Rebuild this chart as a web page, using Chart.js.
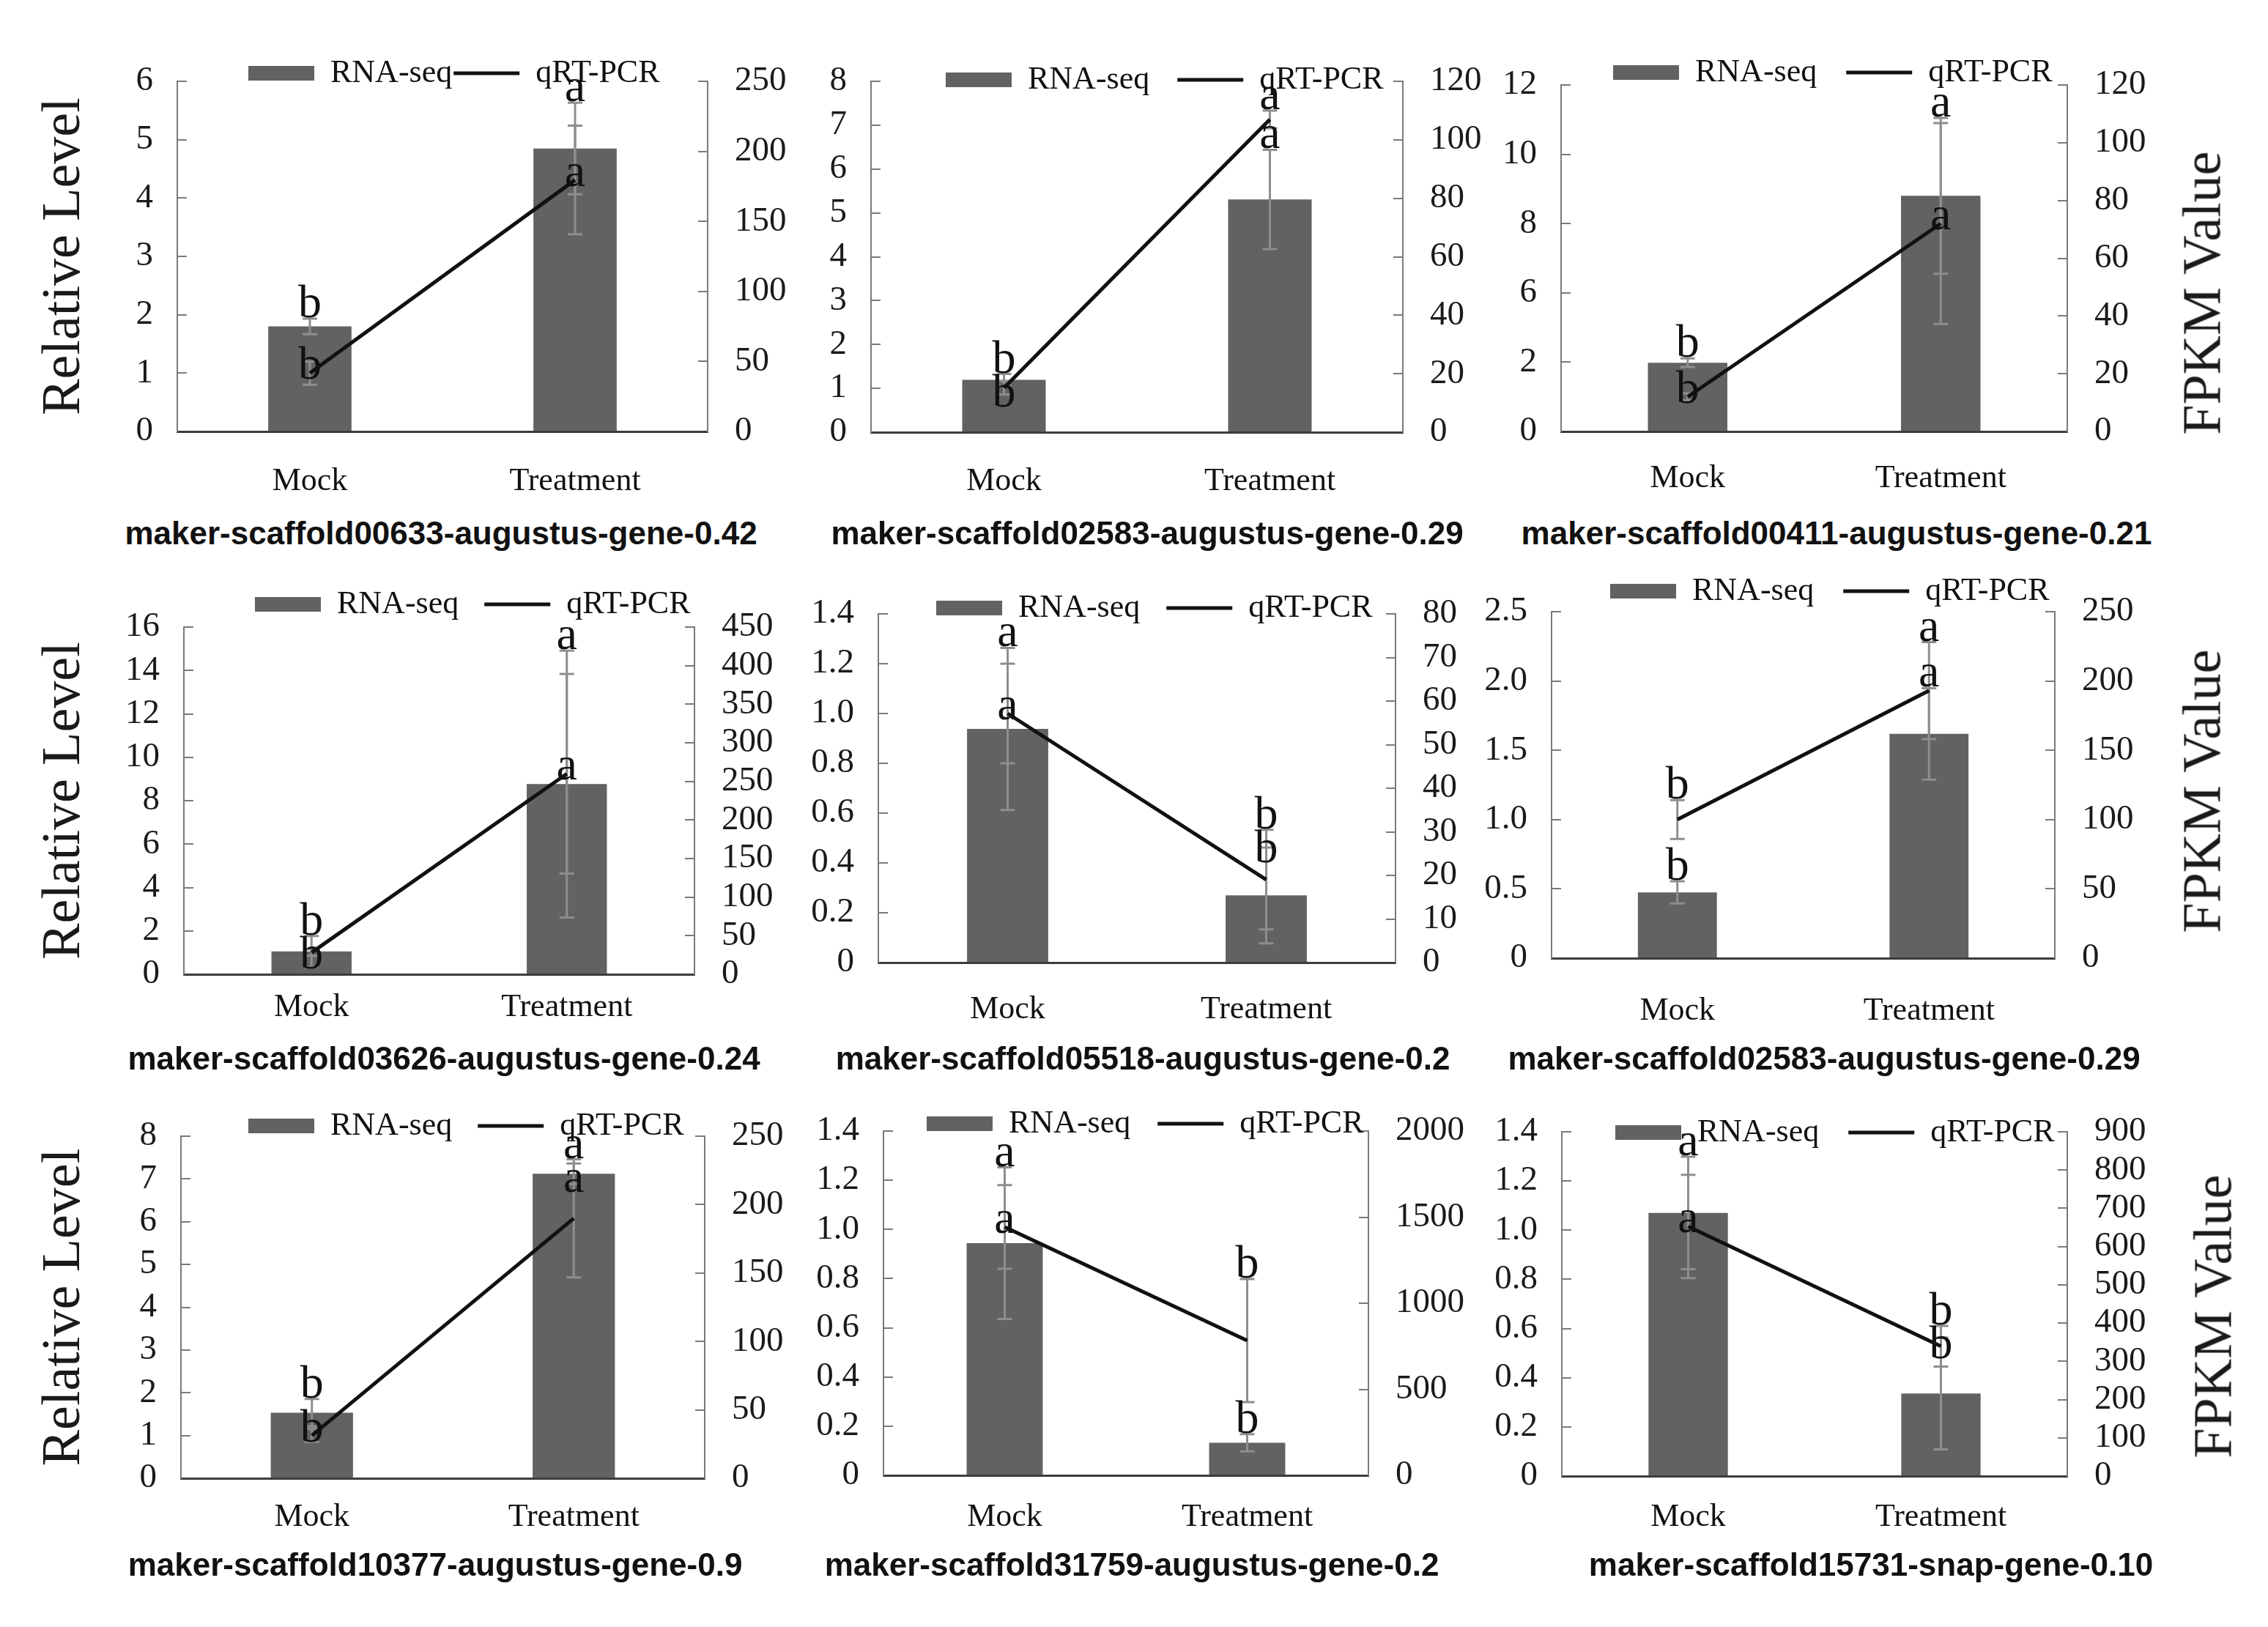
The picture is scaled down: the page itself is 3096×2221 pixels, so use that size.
<!DOCTYPE html>
<html>
<head>
<meta charset="utf-8">
<script src="https://cdn.jsdelivr.net/npm/chart.js@4.4.0/dist/chart.umd.min.js"></script>
<style>
  html, body { margin: 0; padding: 0; background: #fff; }
  #page { position: relative; width: 3096px; height: 2221px; overflow: hidden; background: #fff; }
  #page canvas { position: absolute; }
  .gene { position: absolute; font: bold 44px "Liberation Sans", Arial, sans-serif; color: #111; white-space: nowrap; transform: translate(-50%, -50%); }
  .fpkm { position: absolute; font: 74px "Liberation Serif", "Times New Roman", serif; color: #1a1a1a; white-space: nowrap; transform: translate(-50%, -50%) rotate(-90deg); }
</style>
</head>
<body>
<div id="page"></div>
<script>
const categories = ['Mock', 'Treatment'];

const geneNames = [
    'maker-scaffold00633-augustus-gene-0.42',
    'maker-scaffold02583-augustus-gene-0.29',
    'maker-scaffold00411-augustus-gene-0.21',
    'maker-scaffold03626-augustus-gene-0.24',
    'maker-scaffold05518-augustus-gene-0.2',
    'maker-scaffold02583-augustus-gene-0.29',
    'maker-scaffold10377-augustus-gene-0.9',
    'maker-scaffold31759-augustus-gene-0.2',
    'maker-scaffold15731-snap-gene-0.10'
];

// RNA-seq (bars, FPKM, right axis)
const fpkm = [
    [75, 202], [17.9, 79.6], [23.8, 81.6],
    [29.6, 246.5], [53.6, 15.4], [47.5, 161.8],
    [47.9, 222.6], [1349, 189], [688, 216]
];
const fpkmErr = [
    [5.6, 32.7], [2, 17], [1.5, 27],
    [20, 173], [18.6, 11], [8, 33],
    [10, 7.5], [440, 50], [147, 146]
];

// qRT-PCR (line, relative level, left axis)
const relLevel = [
    [1.0, 4.31], [1.01, 7.13], [1.0, 6.0],
    [1.0, 9.24], [1.0, 0.333], [1.0, 1.93],
    [1.0, 6.08], [1.01, 0.548], [1.015, 0.528]
];
const relErr = [
    [0.2, 0.93], [0.15, 0.2], [0.1, 2.9],
    [0.15, 4.6], [0.2, 0.2], [0.14, 0.35],
    [0.15, 1.38], [0.17, 0.25], [0.21, 0.083]
];

const fpkmLetters = [
    ['b', 'a'], ['b', 'a'], ['b', 'a'],
    ['b', 'a'], ['a', 'b'], ['b', 'a'],
    ['b', 'a'], ['a', 'b'], ['a', 'b']
];
const relLetters = [
    ['b', 'a'], ['b', 'a'], ['b', 'a'],
    ['b', 'a'], ['a', 'b'], ['b', 'a'],
    ['b', 'a'], ['a', 'b'], ['a', 'b']
];

const fine = ['0', '0.2', '0.4', '0.6', '0.8', '1.0', '1.2', '1.4'];
const leftTicks = [
    ['0', '1', '2', '3', '4', '5', '6'],
    ['0', '1', '2', '3', '4', '5', '6', '7', '8'],
    ['0', '2', '6', '8', '10', '12'],
    ['0', '2', '4', '6', '8', '10', '12', '14', '16'],
    fine,
    ['0', '0.5', '1.0', '1.5', '2.0', '2.5'],
    ['0', '1', '2', '3', '4', '5', '6', '7', '8'],
    fine,
    fine
];
const leftStep = [1, 1, 2, 2, 0.2, 0.5, 1, 0.2, 0.2];

const rightTicks = [
    ['0', '50', '100', '150', '200', '250'],
    ['0', '20', '40', '60', '80', '100', '120'],
    ['0', '20', '40', '60', '80', '100', '120'],
    ['0', '50', '100', '150', '200', '250', '300', '350', '400', '450'],
    ['0', '10', '20', '30', '40', '50', '60', '70', '80'],
    ['0', '50', '100', '150', '200', '250'],
    ['0', '50', '100', '150', '200', '250'],
    ['0', '500', '1000', '1500', '2000'],
    ['0', '100', '200', '300', '400', '500', '600', '700', '800', '900']
];

// layout of each panel on the page (px)
const frames = [
    { l: 242, r: 966, t: 111, b: 589, legX: 339, legY: 100, legGap: 2, xPad: 42, tx: 602, ty: 728 },
    { l: 1189, r: 1915, t: 111, b: 590, legX: 1291, legY: 109, legGap: 38, xPad: 41, tx: 1566, ty: 728 },
    { l: 2131, r: 2822, t: 116, b: 589, legX: 2202, legY: 99, legGap: 40, xPad: 38, tx: 2507, ty: 728 },
    { l: 251, r: 948, t: 856, b: 1330, legX: 348, legY: 825, legGap: 35, xPad: 19, tx: 606, ty: 1445 },
    { l: 1199, r: 1905, t: 838, b: 1314, legX: 1278, legY: 830, legGap: 36, xPad: 38, tx: 1560, ty: 1445 },
    { l: 2118, r: 2805, t: 835, b: 1308, legX: 2198, legY: 807, legGap: 40, xPad: 46, tx: 2490, ty: 1445 },
    { l: 247, r: 962, t: 1551, b: 2018, legX: 339, legY: 1537, legGap: 35, xPad: 27, tx: 594, ty: 2136 },
    { l: 1206, r: 1868, t: 1544, b: 2014, legX: 1265, legY: 1534, legGap: 37, xPad: 31, tx: 1545, ty: 2136 },
    { l: 2132, r: 2822, t: 1545, b: 2015, legX: 2205, legY: 1546, legGap: 40, xPad: 30, tx: 2554, ty: 2136 }
];
const fpkmTitlePos = { 2: [3006, 400], 5: [3006, 1080], 8: [3021, 1797] };

const PAGE_W = 3096;
const TOP_SPACE = 140;
const BOTTOM_H = 110;
const SIDE = 130;
const LEG_FS = 44;
const LETTER_H = 46;

Chart.defaults.font.family = '"Liberation Serif", "Times New Roman", serif';
Chart.defaults.color = '#111';

// move the legend to where it sits in the figure
const legendPlace = {
    id: 'legendPlace',
    afterLayout(chart, args, opts) {
        const lg = chart.legend;
        if (!lg) return;
        const pad = opts.gap;
        const w = lg.width, h = lg.height;
        lg.left = opts.x - pad;
        lg.right = lg.left + w;
        lg.top = opts.y - pad - LEG_FS / 2;
        lg.bottom = lg.top + h;
    }
};

function whisker(ctx, x, lo, hi) {
    ctx.beginPath();
    ctx.moveTo(x, lo);
    ctx.lineTo(x, hi);
    ctx.moveTo(x - 10, lo);
    ctx.lineTo(x + 10, lo);
    ctx.moveTo(x - 10, hi);
    ctx.lineTo(x + 10, hi);
    ctx.stroke();
}

// error bars (between bars and line) and significance letters
const marks = {
    id: 'marks',
    beforeDatasetDraw(chart, args, opts) {
        if (args.index !== 1) return;
        const p = opts.panel;
        const ctx = chart.ctx;
        const yL = chart.scales.y, yR = chart.scales.y1;
        const bars = chart.getDatasetMeta(0).data;
        const pts = chart.getDatasetMeta(1).data;
        ctx.save();
        ctx.strokeStyle = '#8e8e8e';
        ctx.lineWidth = 3;
        categories.forEach((c, i) => {
            whisker(ctx, bars[i].x,
                yR.getPixelForValue(fpkm[p][i] - fpkmErr[p][i]),
                yR.getPixelForValue(fpkm[p][i] + fpkmErr[p][i]));
            whisker(ctx, pts[i].x,
                yL.getPixelForValue(relLevel[p][i] - relErr[p][i]),
                yL.getPixelForValue(relLevel[p][i] + relErr[p][i]));
        });
        ctx.restore();
    },
    afterDatasetsDraw(chart, args, opts) {
        const p = opts.panel;
        const ctx = chart.ctx;
        const yL = chart.scales.y, yR = chart.scales.y1;
        const bars = chart.getDatasetMeta(0).data;
        const pts = chart.getDatasetMeta(1).data;
        ctx.save();
        ctx.fillStyle = '#111';
        ctx.font = '64px "Liberation Serif", "Times New Roman", serif';
        ctx.textAlign = 'center';
        ctx.textBaseline = 'alphabetic';
        categories.forEach((c, i) => {
            const barTop = yR.getPixelForValue(fpkm[p][i] + fpkmErr[p][i]);
            const lineTop = yL.getPixelForValue(relLevel[p][i] + relErr[p][i]);
            let barY, lineY;
            if (barTop <= lineTop) {
                barY = barTop - 2;
                lineY = Math.max(pts[i].y + 8, barY + LETTER_H);
            } else {
                lineY = lineTop - 2;
                barY = Math.max(barTop - 2, lineY + LETTER_H);
            }
            ctx.fillText(fpkmLetters[p][i], bars[i].x, barY);
            ctx.fillText(relLetters[p][i], pts[i].x, lineY);
        });
        ctx.restore();
    }
};

const page = document.getElementById('page');

function buildPanel(p) {
    const f = frames[p];
    const col = p % 3;
    const leftW = col === 0 ? f.l : SIDE;
    const rightW = col === 2 ? PAGE_W - f.r : SIDE;
    const x0 = f.l - leftW;
    const y0 = f.t - TOP_SPACE;
    // legend box height in Chart.js: font size + padding + 10
    const padTop = TOP_SPACE - (LEG_FS + f.legGap + 10);

    const canvas = document.createElement('canvas');
    canvas.width = leftW + (f.r - f.l) + rightW;
    canvas.height = TOP_SPACE + (f.b - f.t) + BOTTOM_H;
    canvas.style.left = x0 + 'px';
    canvas.style.top = y0 + 'px';
    page.appendChild(canvas);

    const lStep = leftStep[p];
    const lMax = lStep * (leftTicks[p].length - 1);
    const rLabels = rightTicks[p];
    const rStep = Number(rLabels[1]);
    const rMax = Number(rLabels[rLabels.length - 1]);

    new Chart(canvas, {
        type: 'bar',
        data: {
            labels: categories,
            datasets: [{
                type: 'bar',
                label: 'RNA-seq',
                data: fpkm[p],
                yAxisID: 'y1',
                backgroundColor: '#626262',
                borderColor: '#626262',
                borderWidth: 0,
                barPercentage: 0.314,
                categoryPercentage: 1,
                order: 2
            }, {
                type: 'line',
                label: 'qRT-PCR',
                data: relLevel[p],
                yAxisID: 'y',
                borderColor: '#111',
                backgroundColor: '#111',
                borderWidth: 5,
                pointRadius: 0,
                tension: 0,
                order: 1
            }]
        },
        options: {
            responsive: false,
            animation: false,
            devicePixelRatio: 1,
            layout: { padding: { top: padTop, left: 0, right: 0, bottom: 0 } },
            plugins: {
                tooltip: { enabled: false },
                legend: {
                    position: 'top',
                    align: 'start',
                    labels: {
                        usePointStyle: true,
                        pointStyleWidth: 90,
                        boxHeight: 20,
                        padding: f.legGap,
                        color: '#111',
                        font: { size: LEG_FS },
                        sort: (a, b) => a.datasetIndex - b.datasetIndex,
                        generateLabels: chart => Chart.defaults.plugins.legend.labels.generateLabels(chart)
                            .map(it => Object.assign(it, it.datasetIndex === 0
                                ? { pointStyle: 'rect', lineWidth: 0, fillStyle: '#626262', strokeStyle: '#626262' }
                                : { pointStyle: 'line', lineWidth: 5, strokeStyle: '#111' }))
                    }
                },
                legendPlace: { x: f.legX - x0, y: f.legY - y0, gap: f.legGap },
                marks: { panel: p }
            },
            scales: {
                x: {
                    offset: true,
                    grid: { display: true, drawOnChartArea: false, drawTicks: false },
                    border: { color: '#3c3c3c', width: 3 },
                    ticks: { font: { size: 44 }, color: '#111', padding: f.xPad, maxRotation: 0 },
                    afterFit: s => { s.height = BOTTOM_H; }
                },
                y: {
                    position: 'left',
                    min: 0,
                    max: lMax,
                    ticks: {
                        stepSize: lStep,
                        autoSkip: false,
                        padding: 46,
                        font: { size: 47 },
                        color: '#1a1a1a',
                        callback: (v, i) => leftTicks[p][i]
                    },
                    grid: { drawOnChartArea: false, tickLength: -13, color: '#7a7a7a', lineWidth: 2 },
                    border: { color: '#7a7a7a', width: 2 },
                    title: {
                        display: col === 0,
                        text: 'Relative Level',
                        font: { size: 74 },
                        color: '#1a1a1a',
                        padding: { top: 44, bottom: 0 }
                    },
                    afterFit: s => { s.width = leftW; }
                },
                y1: {
                    position: 'right',
                    min: 0,
                    max: rMax,
                    ticks: {
                        stepSize: rStep,
                        autoSkip: false,
                        padding: 50,
                        font: { size: 47 },
                        color: '#1a1a1a',
                        callback: (v, i) => rLabels[i]
                    },
                    grid: { drawOnChartArea: false, tickLength: -13, color: '#7a7a7a', lineWidth: 2 },
                    border: { color: '#7a7a7a', width: 2 },
                    afterFit: s => { s.width = rightW; }
                }
            }
        },
        plugins: [legendPlace, marks]
    });

    const t = document.createElement('div');
    t.className = 'gene';
    t.textContent = geneNames[p];
    t.style.left = f.tx + 'px';
    t.style.top = f.ty + 'px';
    page.appendChild(t);

    if (fpkmTitlePos[p]) {
        const d = document.createElement('div');
        d.className = 'fpkm';
        d.textContent = 'FPKM Value';
        d.style.left = fpkmTitlePos[p][0] + 'px';
        d.style.top = fpkmTitlePos[p][1] + 'px';
        page.appendChild(d);
    }
}

for (let p = 0; p < frames.length; p++) {
    buildPanel(p);
}
</script>
</body>
</html>
